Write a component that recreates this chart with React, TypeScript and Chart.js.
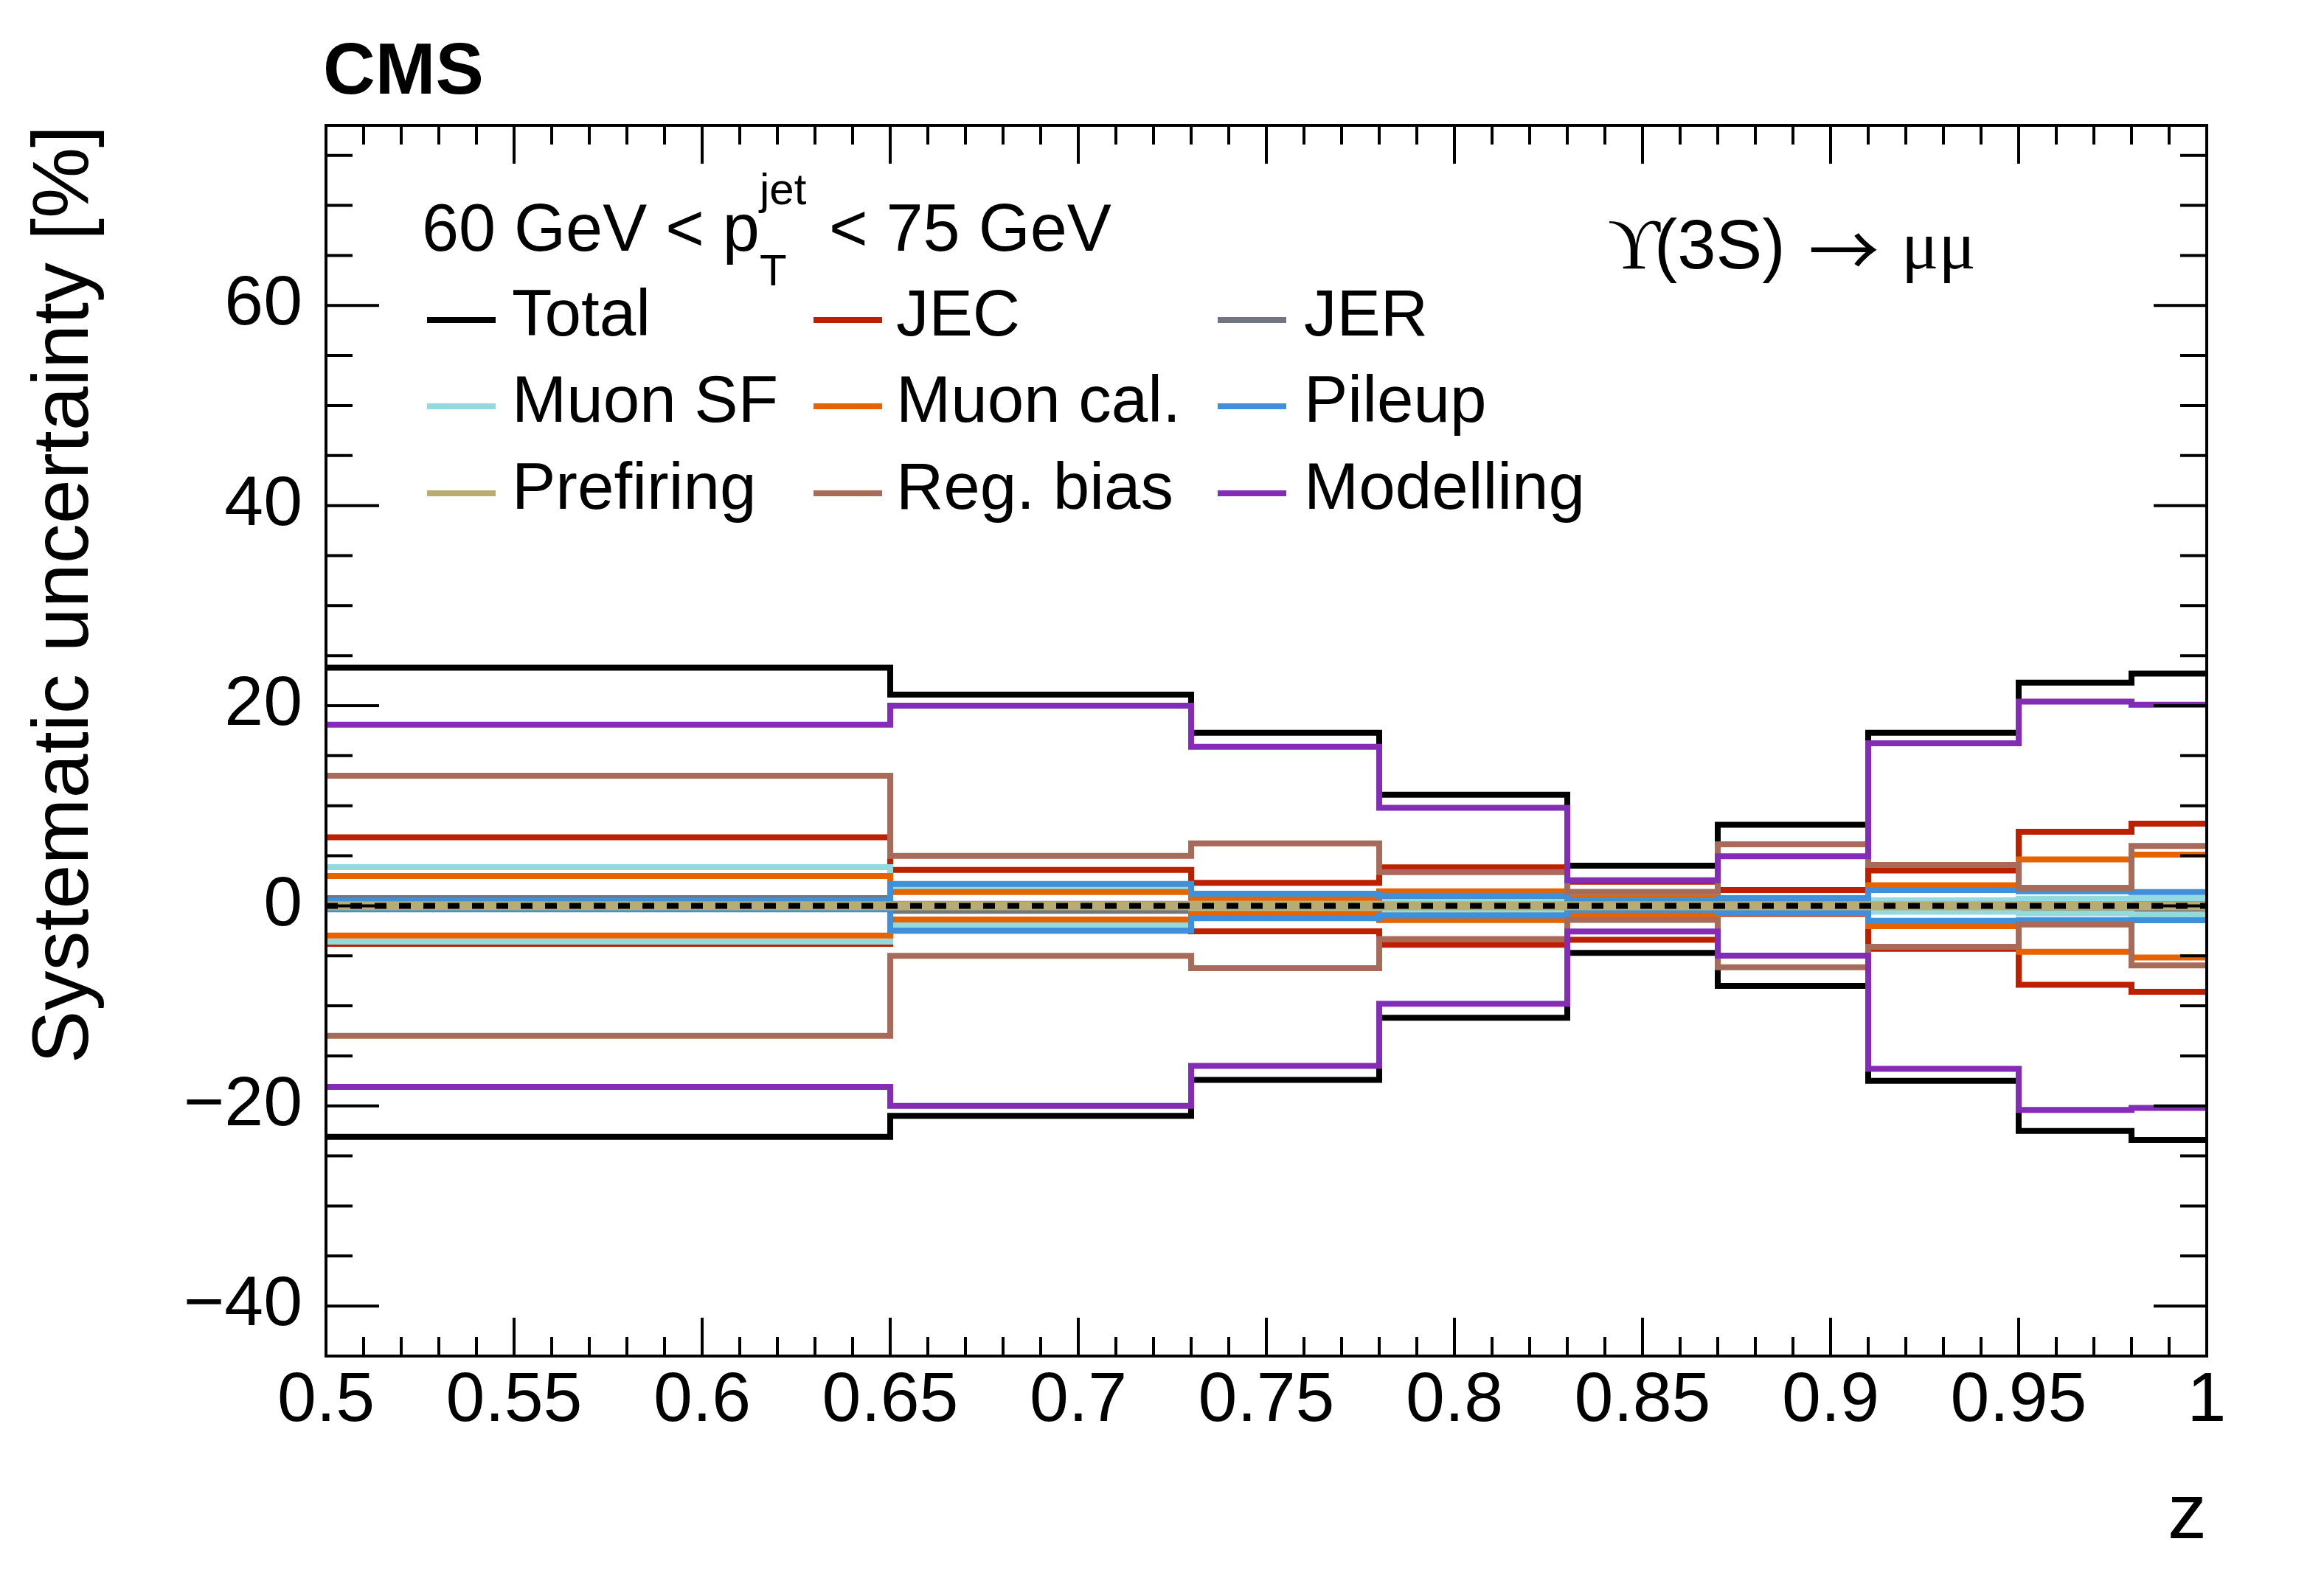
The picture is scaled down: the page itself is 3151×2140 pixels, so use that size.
import { useEffect, useRef } from "react";
import { Chart, registerables } from "chart.js";

Chart.register(...registerables);

// bin edges in z
const zEdges = [0.5, 0.65, 0.73, 0.78, 0.83, 0.87, 0.91, 0.95, 0.98, 1.0];

// relative systematic uncertainty [%] per z bin (up / down variations)
const totalUp = [23.8, 21.1, 17.3, 11.1, 4.0, 8.1, 17.3, 22.3, 23.2];
const totalDown = [-23.1, -21.0, -17.4, -11.2, -4.7, -8.0, -17.5, -22.5, -23.4];
const jecUp = [6.85, 3.58, 2.3, 3.85, 2.4, 1.57, 3.53, 7.4, 8.2];
const jecDown = [-3.8, -2.5, -2.55, -3.9, -3.4, -0.8, -4.3, -7.9, -8.6];
const jerUp = [0.76, 0.2, 0.3, 0.56, 0.3, 0.3, 0.45, 0.45, 0.47];
const jerDown = [-0.3, -0.51, -0.3, -0.56, -0.3, -0.3, -0.45, -0.45, -0.47];
const muonSfUp = [3.87, 1.9, 0.5, 0.4, 0.3, 0.3, 0.54, 0.71, 0.76];
const muonSfDown = [-3.58, -1.89, -0.47, -0.4, -0.3, -0.3, -0.59, -0.76, -0.88];
const muonCalUp = [2.97, 1.37, 0.78, 1.45, 0.83, 0.3, 2.06, 4.63, 5.12];
const muonCalDown = [-2.97, -1.37, -0.8, -1.42, -0.88, -0.3, -2.03, -4.6, -5.17];
const pileupUp = [0.51, 2.18, 1.2, 1.0, 0.5, 0.76, 1.57, 1.45, 1.37];
const pileupDown = [-0.35, -2.48, -1.25, -0.96, -0.4, -0.71, -1.5, -1.45, -1.45];
const prefiringUp = [0.15, 0.15, 0.15, 0.15, 0.15, 0.15, 0.15, 0.15, 0.15];
const prefiringDown = [-0.15, -0.15, -0.15, -0.15, -0.15, -0.15, -0.15, -0.15, -0.15];
const regBiasUp = [13.0, 4.98, 6.23, 3.36, 1.4, 6.15, 4.09, 1.8, 5.98];
const regBiasDown = [-13.0, -5.0, -6.23, -3.33, -1.4, -6.15, -4.09, -1.86, -5.96];
const modellingUp = [18.1, 20.0, 15.9, 9.8, 2.55, 4.95, 16.25, 20.4, 20.1];
const modellingDown = [-18.1, -20.0, -16.0, -9.8, -2.57, -4.98, -16.3, -20.4, -20.2];

const sourceNames = ["Total", "JEC", "JER", "Muon SF", "Muon cal.", "Pileup", "Prefiring", "Reg. bias", "Modelling"];
const sourceColors = ["#000000", "#bd1f01", "#717581", "#92dadd", "#e76300", "#3f90da", "#b9ac70", "#a96b59", "#832db6"];
const sourceUp = [totalUp, jecUp, jerUp, muonSfUp, muonCalUp, pileupUp, prefiringUp, regBiasUp, modellingUp];
const sourceDown = [totalDown, jecDown, jerDown, muonSfDown, muonCalDown, pileupDown, prefiringDown, regBiasDown, modellingDown];

const zeroLevel = 0;

// axes
const xMajorTicks = [0.5, 0.55, 0.6, 0.65, 0.7, 0.75, 0.8, 0.85, 0.9, 0.95, 1];
const yMajorTicks = [-40, -20, 0, 20, 40, 60];
const yMin = -45;
const yMax = 78;

const SANS = '"Liberation Sans", Arial, Helvetica, sans-serif';
const SERIF = '"Liberation Serif", "DejaVu Serif", serif';

const stepPoints = (vals: number[]) => {
  const pts = vals.map((v, i) => ({ x: zEdges[i], y: v }));
  pts.push({ x: zEdges[zEdges.length - 1], y: vals[vals.length - 1] });
  return pts;
};

const rootStyle = {
  id: "rootStyle",
  afterDraw(chart: any) {
    const { ctx, chartArea: a, scales } = chart;
    const xs = scales.x;
    const ys = scales.y;
    ctx.save();
    ctx.strokeStyle = "#000";
    ctx.lineCap = "butt";
    ctx.lineWidth = 4;

    // ticks pointing inward on all four sides
    ctx.beginPath();
    for (let k = 0; k <= 50; k++) {
      const v = 0.5 + k / 100;
      const len = k % 5 === 0 ? 52 : 26;
      const px = xs.getPixelForValue(v);
      ctx.moveTo(px, a.bottom);
      ctx.lineTo(px, a.bottom - len);
      ctx.moveTo(px, a.top);
      ctx.lineTo(px, a.top + len);
    }
    for (let v = yMin; v <= yMax; v += 5) {
      const len = v % 20 === 0 ? 72 : 36;
      const py = ys.getPixelForValue(v);
      ctx.moveTo(a.left, py);
      ctx.lineTo(a.left + len, py);
      ctx.moveTo(a.right, py);
      ctx.lineTo(a.right - len, py);
    }
    ctx.stroke();
    ctx.strokeRect(a.left, a.top, a.right - a.left, a.bottom - a.top);

    ctx.fillStyle = "#000";
    ctx.textBaseline = "alphabetic";
    ctx.textAlign = "left";

    // CMS label
    ctx.font = `bold 98px ${SANS}`;
    ctx.fillText("CMS", 438, 127);

    // legend header
    ctx.font = `90px ${SANS}`;
    ctx.fillText("60 GeV < p", 572, 340);
    ctx.font = `60px ${SANS}`;
    ctx.fillText("jet", 1030, 277);
    ctx.fillText("T", 1030, 387);
    ctx.font = `90px ${SANS}`;
    ctx.fillText("< 75 GeV", 1124, 340);

    // legend entries
    const colLineX = [579, 1103, 1651];
    const colTextX = [694, 1215, 1768];
    const rowY = [434, 551, 669];
    sourceNames.forEach((name, i) => {
      const c = i % 3;
      const r = Math.floor(i / 3);
      ctx.strokeStyle = sourceColors[i];
      ctx.lineWidth = 8;
      ctx.beginPath();
      ctx.moveTo(colLineX[c], rowY[r]);
      ctx.lineTo(colLineX[c] + 93, rowY[r]);
      ctx.stroke();
      ctx.font = `89px ${SANS}`;
      ctx.fillText(name, colTextX[c], rowY[r] + 21);
    });

    // process label
    ctx.font = `98px ${SERIF}`;
    ctx.fillText("\u03D2", 2180, 364);
    ctx.font = `94px ${SANS}`;
    ctx.fillText("(3S)", 2243, 364);
    ctx.font = `96px "Noto Sans CJK JP", "Noto Sans CJK SC", ${SANS}`;
    ctx.fillText("\u2192", 2452, 375);
    ctx.font = `94px ${SERIF}`;
    ctx.fillText("\u03BC\u03BC", 2578, 364);

    ctx.restore();
  },
};

const App = () => {
  const canvasRef = useRef<HTMLCanvasElement | null>(null);

  useEffect(() => {
    if (!canvasRef.current) return;

    const datasets: any[] = [];
    sourceNames.forEach((name, i) => {
      [sourceUp[i], sourceDown[i]].forEach((vals, j) => {
        datasets.push({
          label: name + (j === 0 ? " up" : " down"),
          data: stepPoints(vals),
          borderColor: sourceColors[i],
          backgroundColor: sourceColors[i],
          borderWidth: 8,
          stepped: true,
          fill: false,
          pointRadius: 0,
          borderJoinStyle: "miter",
          borderCapStyle: "butt",
          order: 100 - i,
        });
      });
    });
    datasets.push({
      label: "zero",
      data: [
        { x: zEdges[0], y: zeroLevel },
        { x: zEdges[zEdges.length - 1], y: zeroLevel },
      ],
      borderColor: "#000",
      borderWidth: 8,
      borderDash: [16, 17],
      pointRadius: 0,
      fill: false,
      order: -1,
    });

    const chart = new Chart(canvasRef.current, {
      type: "line",
      data: { datasets },
      options: {
        animation: false,
        responsive: false,
        devicePixelRatio: 1,
        layout: { padding: { top: 170, right: 159, left: 0, bottom: 0 } },
        plugins: { legend: { display: false }, tooltip: { enabled: false } },
        scales: {
          x: {
            type: "linear",
            min: 0.5,
            max: 1,
            grid: { display: false, drawTicks: false },
            border: { display: false },
            afterBuildTicks: (s: any) => {
              s.ticks = xMajorTicks.map((v) => ({ value: v }));
            },
            afterFit: (s: any) => {
              s.height = 301;
            },
            ticks: {
              autoSkip: false,
              maxRotation: 0,
              padding: 5,
              color: "#000",
              font: { family: SANS, size: 95 },
              callback: (v: any) => String(v),
            },
            title: {
              display: true,
              text: "z",
              align: "end",
              color: "#000",
              font: { family: SANS, size: 106 },
              padding: { top: 0, bottom: 20 },
            },
          },
          y: {
            type: "linear",
            min: yMin,
            max: yMax,
            grid: { display: false, drawTicks: false },
            border: { display: false },
            afterBuildTicks: (s: any) => {
              s.ticks = yMajorTicks.map((v) => ({ value: v }));
            },
            afterFit: (s: any) => {
              s.width = 442;
            },
            ticks: {
              padding: 32,
              color: "#000",
              font: { family: SANS, size: 95 },
              callback: (v: any) => (v < 0 ? "\u2212" + Math.abs(v) : String(v)),
            },
            title: {
              display: true,
              text: "Systematic uncertainty [%]",
              align: "end",
              color: "#000",
              font: { family: SANS, size: 108 },
              padding: { top: 24, bottom: 0 },
            },
          },
        },
      },
      plugins: [rootStyle],
    });

    return () => {
      chart.destroy();
    };
  }, []);

  return (
    <div style={{ position: "absolute", left: 0, top: 0, width: 3151, height: 2140, background: "#fff" }}>
      <canvas ref={canvasRef} width={3151} height={2140}></canvas>
    </div>
  );
};

export default App;
